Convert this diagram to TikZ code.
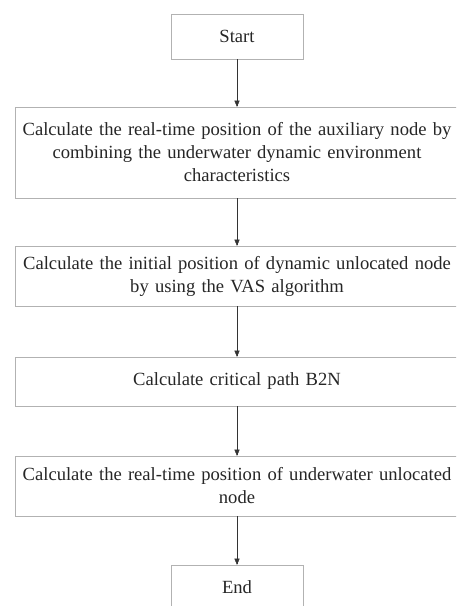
\documentclass[tikz,border=0pt]{standalone}
\usepackage{fontspec}
\setmainfont{Liberation Serif}
\usetikzlibrary{arrows}

\begin{document}
\begin{tikzpicture}
[
x=1pt, y=-1pt, >=triangle 45,
block/.style    = {draw=gray!60, thin, rectangle, align=center, inner sep=0pt, text=black!85, font=\fontsize{18.6}{23}\selectfont},
wide/.style     = {block, minimum width=444, text width=440},
small/.style    = {block, minimum width=132, minimum height=45},
flow/.style     = {->, draw=black!80, thin},
]
\clip (0,0) rectangle (456,606);

\node at (237,36.5)[small] (start) {Start};
\node at (237,152.5)[wide, minimum height=91] (aux) {Calculate the real-time position of the auxiliary node by\\ combining the underwater dynamic environment\\ characteristics};
\node at (237,276)[wide, minimum height=60] (init) {Calculate the initial position of dynamic unlocated node\\ by using the VAS algorithm};
\node at (237,381.5)[wide, minimum height=49] (path) {Calculate critical path B2N};
\node at (237,486)[wide, minimum height=60] (real) {Calculate the real-time position of underwater unlocated\\ node};
\node at (237,587.5)[small] (end) {End};

\draw[flow] (start.south) -- (aux.north);
\draw[flow] (aux.south) -- (init.north);
\draw[flow] (init.south) -- (path.north);
\draw[flow] (path.south) -- (real.north);
\draw[flow] (real.south) -- (end.north);
\end{tikzpicture}
\end{document}
